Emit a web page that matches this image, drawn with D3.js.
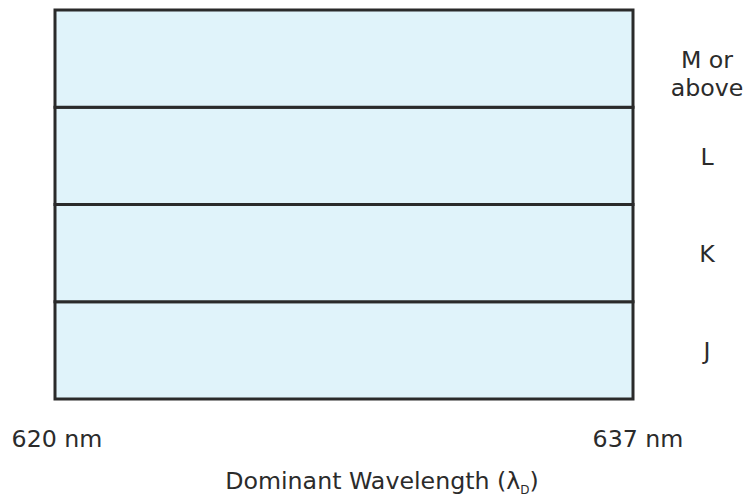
<!DOCTYPE html>
<html>
<head>
<meta charset="utf-8">
<script src="https://cdn.jsdelivr.net/npm/d3@7"></script>
<style>
  html, body { margin: 0; padding: 0; background: #fff; }
  svg text { font-family: "DejaVu Sans", Verdana, sans-serif; fill: #2b2b2b; }
</style>
</head>
<body>
<svg id="chart" width="744" height="498"></svg>
<script>
// bins from bottom to top
const grades = ["J", "K", "L", "M or above"];
const wavelengthRange = [620, 637];
const tickLabels = ["620 nm", "637 nm"];
const axisTitle = "Dominant Wavelength (λ";
const axisSub = "D";

const svg = d3.select("#chart");
const margin = { top: 10, right: 111, bottom: 99, left: 55 };
const width = 744, height = 498;
const fs = 23.7;

const x = d3.scaleLinear().domain(wavelengthRange).range([margin.left, width - margin.right]);
const y = d3.scaleBand().domain(grades.slice().reverse()).range([margin.top, height - margin.bottom]);

// bands
svg.append("g").selectAll("rect")
  .data(grades)
  .join("rect")
  .attr("x", x(wavelengthRange[0]))
  .attr("y", d => y(d))
  .attr("width", x(wavelengthRange[1]) - x(wavelengthRange[0]))
  .attr("height", y.bandwidth())
  .attr("fill", "#e0f3fa")
  .attr("stroke", "#2a2a2a")
  .attr("stroke-width", 3);

// grade labels on the right
const lab = svg.append("g").selectAll("text")
  .data(grades)
  .join("text")
  .attr("text-anchor", "middle")
  .attr("font-size", fs)
  .attr("x", 707)
  .attr("y", d => y(d) + y.bandwidth() / 2 + 9);

lab.each(function(d) {
  const parts = d === "M or above" ? ["M or", "above"] : [d];
  const t = d3.select(this);
  parts.forEach((p, i) => {
    t.append("tspan")
      .attr("x", 707)
      .attr("dy", i === 0 ? 0 : 28)
      .text(p);
  });
});

// x tick labels
svg.append("g").selectAll("text")
  .data(wavelengthRange)
  .join("text")
  .attr("text-anchor", "middle")
  .attr("font-size", fs)
  .attr("x", (d, i) => x(d) + (i === 0 ? 2 : 5))
  .attr("y", 447)
  .text((d, i) => tickLabels[i]);

// axis title
const title = svg.append("text")
  .attr("text-anchor", "middle")
  .attr("font-size", fs)
  .attr("x", (x(wavelengthRange[0]) + x(wavelengthRange[1])) / 2 + 38)
  .attr("y", 489);
title.append("tspan").text(axisTitle);
title.append("tspan").attr("font-size", 12).attr("dy", 5).text(axisSub);
title.append("tspan").attr("dy", -5).text(")");
</script>
</body>
</html>
